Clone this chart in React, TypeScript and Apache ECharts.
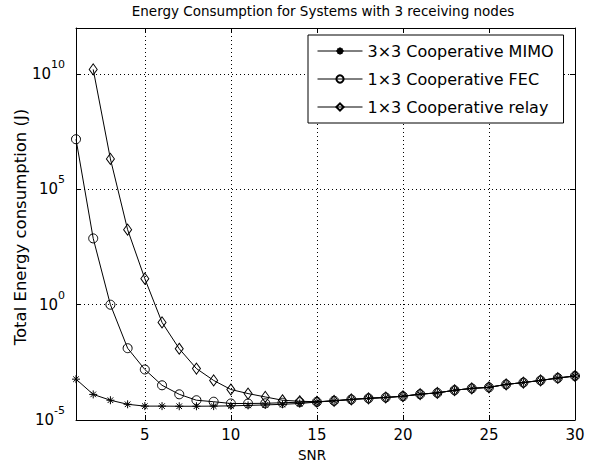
import React, { useEffect, useRef } from "react";
import * as echarts from "echarts";

const snr = [1, 2, 3, 4, 5, 6, 7, 8, 9, 10, 11, 12, 13, 14, 15, 16, 17, 18, 19, 20, 21, 22, 23, 24, 25, 26, 27, 28, 29, 30];

const mimo = [5.9e-4, 1.29e-4, 7.2e-5, 4.8e-5, 4.0e-5, 4.0e-5, 3.95e-5, 3.95e-5, 4.0e-5, 4.1e-5, 4.3e-5, 4.5e-5, 4.8e-5, 5.2e-5, 6.0e-5, 6.8e-5, 7.8e-5, 8.7e-5, 9.5e-5, 1.07e-4, 1.32e-4, 1.5e-4, 1.95e-4, 2.35e-4, 2.6e-4, 3.5e-4, 4.2e-4, 5.2e-4, 6.6e-4, 8.1e-4];

const fec = [1.5e7, 750, 1.0, 1.3e-2, 1.55e-3, 3.2e-4, 1.3e-4, 7.2e-5, 6.2e-5, 5.2e-5, 5.2e-5, 5.3e-5, 5.6e-5, 5.9e-5, 6.1e-5, 6.8e-5, 7.8e-5, 8.7e-5, 9.5e-5, 1.07e-4, 1.32e-4, 1.5e-4, 1.95e-4, 2.35e-4, 2.6e-4, 3.5e-4, 4.2e-4, 5.2e-4, 6.6e-4, 8.1e-4];

const relay = [null, 1.6e10, 2.1e6, 1.8e3, 13.5, 0.17, 1.23e-2, 1.7e-3, 5.2e-4, 2.1e-4, 1.4e-4, 1.0e-4, 7.2e-5, 6.5e-5, 6.2e-5, 6.8e-5, 7.8e-5, 8.7e-5, 9.5e-5, 1.07e-4, 1.32e-4, 1.5e-4, 1.95e-4, 2.35e-4, 2.6e-4, 3.5e-4, 4.2e-4, 5.2e-4, 6.6e-4, 8.1e-4];

const seriesNames = ["3\u00d73 Cooperative MIMO", "1\u00d73 Cooperative FEC", "1\u00d73 Cooperative relay"];
const xTicks = [5, 10, 15, 20, 25, 30];
const yExponents = [-5, 0, 5, 10];
const titleText = "Energy Consumption for Systems with 3 receiving nodes";
const xName = "SNR";
const yName = "Total Energy consumption (J)";

const FONT = "DejaVu Sans";
const STAR = "path://M0,5L10,5M5,0L5,10M1.5,1.5L8.5,8.5M8.5,1.5L1.5,8.5";

function pairs(vals: (number | null)[]) {
  const out: [number, number][] = [];
  vals.forEach((v, i) => {
    if (v !== null) out.push([snr[i], v]);
  });
  return out;
}

export default function App() {
  const ref = useRef<HTMLDivElement>(null);
  useEffect(() => {
    if (!ref.current) return;
    const chart = echarts.init(ref.current, null, { renderer: "svg" });
    const markerStyle = { color: "rgba(0,0,0,0)", borderColor: "#000", borderWidth: 1 };
    const lineStyle = { color: "#000", width: 1 };
    const yLabelFmt = (v: number) => {
      const e = Math.round(Math.log10(v));
      if (yExponents.indexOf(e) < 0) return "";
      return "{b|10}{s|" + e + "}";
    };
    chart.setOption({
      animation: false,
      backgroundColor: "#fff",
      grid: { left: 76, right: 19, top: 28, bottom: 50, containLabel: false, outerBoundsMode: "none" },
      legend: {
        orient: "vertical",
        left: 308,
        top: 35,
        padding: [8, 10, 8, 9],
        itemGap: 12,
        itemWidth: 45,
        itemHeight: 9,
        borderColor: "#000",
        borderWidth: 1,
        backgroundColor: "#fff",
        lineStyle: { width: 1, color: "#000" },
        textStyle: { fontFamily: FONT, fontSize: 16, color: "#000" },
        data: seriesNames,
      },
      xAxis: [
        {
          type: "value",
          min: 1,
          max: 30,
          position: "bottom",
          axisLine: { show: true, lineStyle: { color: "#000", width: 1 } },
          axisTick: { show: true, inside: true, length: 5, customValues: xTicks, lineStyle: { color: "#000" } },
          axisLabel: { show: true, customValues: xTicks, margin: 7, fontFamily: FONT, fontSize: 15, color: "#000" },
          splitLine: { show: true, lineStyle: { color: "#000", type: [1, 3], width: 1 } },
        },
        {
          type: "value",
          min: 1,
          max: 30,
          position: "top",
          axisLine: { show: true, lineStyle: { color: "#000", width: 1 } },
          axisTick: { show: true, inside: true, length: 5, customValues: xTicks, lineStyle: { color: "#000" } },
          axisLabel: { show: false },
          splitLine: { show: false },
        },
      ],
      yAxis: [
        {
          type: "log",
          logBase: 10,
          min: 1e-5,
          max: 1e12,
          interval: 5,
          position: "left",
          axisLine: { show: true, lineStyle: { color: "#000", width: 1 } },
          axisTick: { show: true, inside: true, length: 5, lineStyle: { color: "#000" } },
          minorTick: { show: false },
          axisLabel: {
            show: true,
            margin: 11,
            formatter: yLabelFmt,
            rich: {
              b: { fontFamily: FONT, fontSize: 15, color: "#000", lineHeight: 30, verticalAlign: "middle" },
              s: { fontFamily: FONT, fontSize: 11, color: "#000", lineHeight: 12, verticalAlign: "top" },
            },
          },
          splitLine: { show: true, lineStyle: { color: "#000", type: [1, 3], width: 1 } },
        },
        {
          type: "log",
          logBase: 10,
          min: 1e-5,
          max: 1e12,
          interval: 5,
          position: "right",
          axisLine: { show: true, lineStyle: { color: "#000", width: 1 } },
          axisTick: { show: true, inside: true, length: 5, lineStyle: { color: "#000" } },
          axisLabel: { show: false },
          splitLine: { show: false },
        },
      ],
      series: [
        {
          name: seriesNames[0],
          type: "line",
          data: pairs(mimo),
          symbol: STAR,
          symbolSize: 8,
          showAllSymbol: true,
          itemStyle: markerStyle,
          lineStyle,
          z: 3,
        },
        {
          name: seriesNames[1],
          type: "line",
          data: pairs(fec),
          symbol: "circle",
          symbolSize: 9,
          showAllSymbol: true,
          itemStyle: markerStyle,
          lineStyle,
          z: 3,
        },
        {
          name: seriesNames[2],
          type: "line",
          data: pairs(relay),
          symbol: "diamond",
          symbolSize: [8, 11],
          showAllSymbol: true,
          itemStyle: markerStyle,
          lineStyle,
          z: 3,
        },
      ],
      graphic: [
        {
          type: "text",
          x: 323,
          y: 11,
          style: { text: titleText, fontFamily: FONT, fontSize: 13.5, fill: "#000", align: "center", verticalAlign: "middle" },
        },
        {
          type: "text",
          x: 312,
          y: 455,
          style: { text: xName, fontFamily: FONT, fontSize: 13.5, fill: "#000", align: "center", verticalAlign: "middle" },
        },
        {
          type: "text",
          x: 20,
          y: 227,
          rotation: Math.PI / 2,
          style: { text: yName, fontFamily: FONT, fontSize: 16.5, fill: "#000", align: "center", verticalAlign: "middle" },
        },
      ],
    });
    return () => chart.dispose();
  }, []);
  return <div ref={ref} style={{ position: "fixed", left: 0, top: 0, width: 594, height: 470 }} />;
}
